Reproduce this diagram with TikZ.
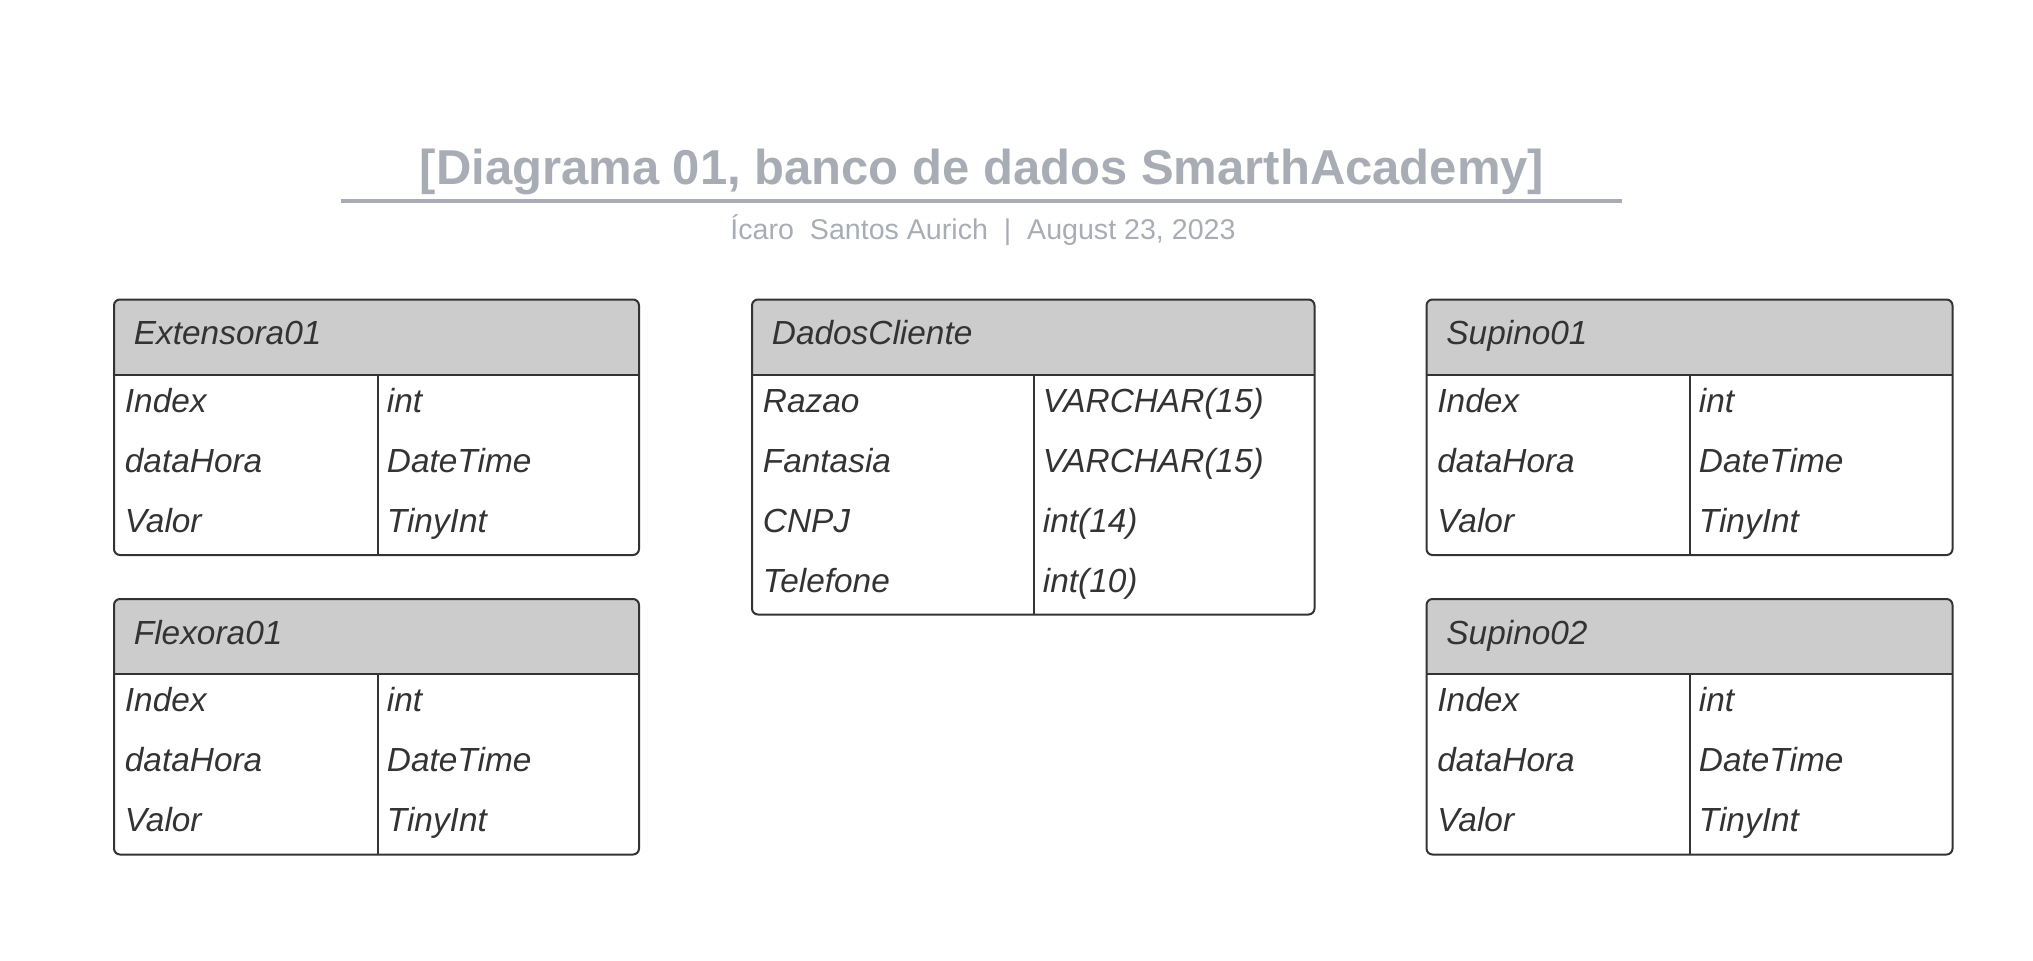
\documentclass[tikz,border=0pt]{standalone}
\usepackage{fontspec}
\setmainfont{Liberation Sans}

\definecolor{titlegray}{HTML}{A8ADB5}
\definecolor{textgray}{HTML}{333333}
\definecolor{bordergray}{HTML}{333333}
\definecolor{headgray}{HTML}{CCCCCC}

\tikzset{
	tablebox/.style = {draw = bordergray, line width = 1pt, rounded corners = 3pt},
	headfill/.style = {fill = headgray, rounded corners = 3pt},
	tabletitle/.style = {anchor = base west, inner sep = 0pt, text = textgray,
		font = \fontsize{16.7}{20}\selectfont\itshape},
	tablecell/.style = {tabletitle}
}

% One table: name, left, top, right, bottom, column split, title, rows
\newcommand{\erdtable}[8]{%
	\begin{scope}
		\clip (#2, #3) rectangle (#4, #3 + 75);
		\fill [headfill] (#2, #3) rectangle (#4, #5);
	\end{scope}
	\draw [tablebox] (#2, #3 + 75) -- (#4, #3 + 75);
	\draw [tablebox] (#6, #3 + 75) -- (#6, #5);
	\draw [tablebox] (#2, #3) rectangle (#4, #5);
	\node [tabletitle] (#1-title) at (#2 + 19.5, #3 + 45) {#7};
	\foreach [count = \i] \fname/\ftype in {#8} {
		\node [tablecell] (#1-field\i) at (#2 + 10.5, #3 + 52.7 + 60 * \i) {\fname};
		\node [tablecell] (#1-type\i) at (#6 + 9, #3 + 52.7 + 60 * \i) {\ftype};
	}%
}

\begin{document}
\begin{tikzpicture}[x = 0.5pt, y = -0.5pt]

	\useasboundingbox (0, 0) rectangle (2033, 960);

	% Title, rule and subtitle

	\node [anchor = base, inner sep = 0pt, text = titlegray,
		font = \fontsize{24.5}{28}\selectfont\bfseries] (title) at (982, 184)
		{[Diagrama 01, banco de dados SmarthAcademy]};

	\draw [titlegray, line width = 2.2pt] (341, 201) -- (1622, 201);

	\node [anchor = base, inner sep = 0pt, text = titlegray,
		font = \fontsize{14.3}{17}\selectfont] (subtitle) at (983, 239.5)
		{Ícaro\ \ Santos Aurich\ \ |\ \ August 23, 2023};

	% Left column

	\erdtable{ext}{114}{299.5}{639}{555}{377.5}{Extensora01}
		{Index/int, dataHora/DateTime, Valor/TinyInt}

	\erdtable{flex}{114}{599}{639}{854.5}{377.5}{Flexora01}
		{Index/int, dataHora/DateTime, Valor/TinyInt}

	% Middle

	\erdtable{cliente}{752}{299.5}{1314.5}{614.5}{1033.5}{DadosCliente}
		{Razao/VARCHAR(15), Fantasia/VARCHAR(15), CNPJ/int(14), Telefone/int(10)}

	% Right column

	\erdtable{sup1}{1426.5}{299.5}{1952.5}{555}{1689.5}{Supino01}
		{Index/int, dataHora/DateTime, Valor/TinyInt}

	\erdtable{sup2}{1426.5}{599}{1952.5}{854.5}{1689.5}{Supino02}
		{Index/int, dataHora/DateTime, Valor/TinyInt}

\end{tikzpicture}
\end{document}
